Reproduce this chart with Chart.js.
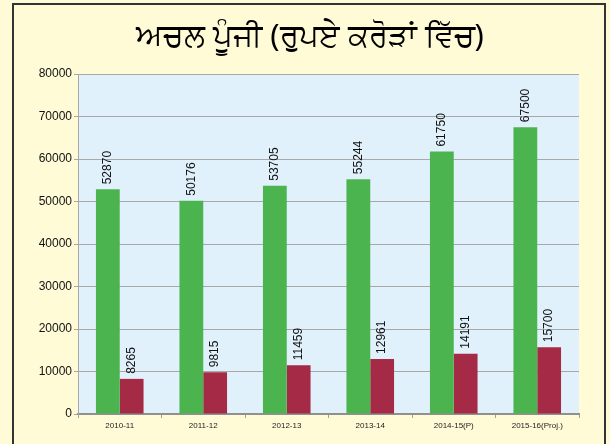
<!DOCTYPE html>
<html>
<head>
<meta charset="utf-8">
<script src="https://cdn.jsdelivr.net/npm/chart.js@4.4.1/dist/chart.umd.min.js"></script>
<style>
html,body{margin:0;padding:0;background:#fffbd6;}
#wrap{width:610px;height:444px;position:relative;}
</style>
</head>
<body>
<div id="wrap"><canvas id="c" width="610" height="444"></canvas></div>
<script>
const titleText = "ਅਚਲ ਪੂੰਜੀ (ਰੁਪਏ ਕਰੋੜਾਂ ਵਿੱਚ)";
const categories = ["2010-11", "2011-12", "2012-13", "2013-14", "2014-15(P)", "2015-16(Proj.)"];
const seriesGreen = [52870, 50176, 53705, 55244, 61750, 67500];
const seriesRed = [8265, 9815, 11459, 12961, 14191, 15700];
const yTicks = [0, 10000, 20000, 30000, 40000, 50000, 60000, 70000, 80000];

const framePlugin = {
  id: 'frame',
  beforeDraw(chart) {
    const ctx = chart.ctx;
    ctx.save();
    ctx.fillStyle = '#fffbd6';
    ctx.fillRect(0, 0, chart.width, chart.height);
    ctx.strokeStyle = '#333333';
    ctx.lineWidth = 2;
    ctx.strokeRect(13, 4, 592, 450);
    const a = chart.chartArea;
    ctx.fillStyle = '#e0f1fc';
    ctx.fillRect(a.left, a.top, a.right - a.left, a.bottom - a.top);
    ctx.fillStyle = '#000';
    ctx.font = '31px "Noto Sans", "Lohit Gurmukhi", sans-serif';
    ctx.textAlign = 'center';
    ctx.textBaseline = 'middle';
    ctx.fillText(titleText, 310, 37);
    ctx.restore();
  }
};

const labelPlugin = {
  id: 'vlabels',
  afterDatasetsDraw(chart) {
    const ctx = chart.ctx;
    ctx.save();
    ctx.fillStyle = '#111';
    ctx.font = '12px "Liberation Sans Narrow", "Liberation Sans", Arial, sans-serif';
    ctx.textAlign = 'left';
    ctx.textBaseline = 'middle';
    chart.data.datasets.forEach((ds, di) => {
      chart.getDatasetMeta(di).data.forEach((bar, i) => {
        ctx.save();
        ctx.translate(bar.x, bar.y - 5);
        ctx.rotate(-Math.PI / 2);
        ctx.fillText(String(ds.data[i]), 0, 0);
        ctx.restore();
      });
    });
    ctx.restore();
  }
};

new Chart(document.getElementById('c'), {
  type: 'bar',
  data: {
    labels: categories,
    datasets: [
      { data: seriesGreen, backgroundColor: '#4cb44f', borderWidth: 0 },
      { data: seriesRed, backgroundColor: '#a52a45', borderWidth: 0 }
    ]
  },
  options: {
    responsive: false,
    animation: false,
    devicePixelRatio: 1,
    layout: { padding: { left: 14, right: 31, top: 74, bottom: 4 } },
    plugins: { legend: { display: false }, tooltip: { enabled: false }, title: { display: false } },
    datasets: { bar: { categoryPercentage: 0.57, barPercentage: 1.0 } },
    scales: {
      x: {
        grid: { display: true, drawOnChartArea: false, drawTicks: true, tickLength: 4, color: '#a0a0a0', offset: true },
        border: { display: true, color: '#909090', width: 2 },
        ticks: { color: '#222', font: { size: 8, family: 'Liberation Sans, Arial, sans-serif' }, maxRotation: 0, padding: 3 },
        afterFit(s) { s.height = 26; }
      },
      y: {
        min: 0, max: 80000,
        afterBuildTicks(s) { s.ticks = yTicks.map(v => ({ value: v })); },
        grid: { color: '#a8a8a8', lineWidth: 1, tickLength: 4, drawTicks: true },
        border: { display: true, color: '#a8a8a8', width: 1 },
        ticks: { color: '#111', font: { size: 12, family: 'Liberation Sans, Arial, sans-serif' }, padding: 2, callback: v => String(v) },
        afterFit(s) { s.width = 64; }
      }
    }
  },
  plugins: [framePlugin, labelPlugin]
});
</script>
</body>
</html>
